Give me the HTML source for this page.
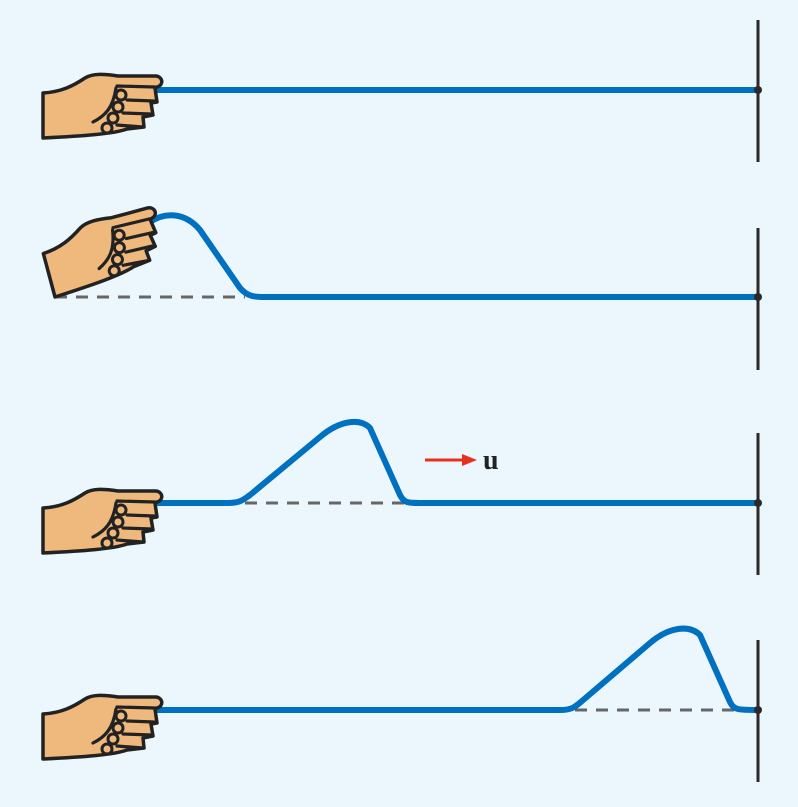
<!DOCTYPE html>
<html><head><style>body{margin:0;background:#ebf7fd}svg{display:block}</style></head>
<body>
<svg width="798" height="807" viewBox="0 0 798 807" xmlns="http://www.w3.org/2000/svg">
<rect width="798" height="807" fill="#ebf7fd"/>
<defs>
<g id="hand">
<path d="M0,21 C18,20 30,14 42,6 C50,1 62,2 75,4 L113,4 C120,5 121,13 114,15 L112,16 L114,30 L108,31 L110,43 L100,45 L101,55 L84,57 C70,62 40,64 0,66 Z" fill="#efb97e" stroke="#222" stroke-width="3.5" stroke-linejoin="round"/>
<path d="M112,15 L74,14 M84,28 L111,29 M80,41 L108,42 M74,53 L100,55 M50,50 C62,44 70,36 73,16" fill="none" stroke="#222" stroke-width="3.2" stroke-linecap="round"/>
<circle cx="78" cy="23" r="5" fill="#efb97e" stroke="#222" stroke-width="3"/>
<circle cx="75" cy="35" r="5" fill="#efb97e" stroke="#222" stroke-width="3"/>
<circle cx="70" cy="46" r="5" fill="#efb97e" stroke="#222" stroke-width="3"/>
<circle cx="64" cy="56" r="5" fill="#efb97e" stroke="#222" stroke-width="3"/>
</g>
</defs>
<g stroke="#2a2a2a" stroke-width="3">
<line x1="758" y1="20" x2="758" y2="162"/><line x1="758" y1="228" x2="758" y2="370"/>
<line x1="758" y1="433" x2="758" y2="575"/><line x1="758" y1="640" x2="758" y2="782"/>
</g>
<g stroke="#666" stroke-width="3" stroke-dasharray="12,9">
<line x1="55" y1="297" x2="245" y2="297"/><line x1="245" y1="503" x2="405" y2="503"/><line x1="575" y1="710" x2="740" y2="710"/>
</g>
<g fill="none" stroke="#0070c0" stroke-width="6" stroke-linecap="round" stroke-linejoin="round">
<path d="M158,90 L758,90"/>
<path d="M150,222 C165,212 185,212 200,230 L240,288 C248,297 255,297 265,297 L758,297"/>
<path d="M158,503 L228,503 C240,503 243,500 250,495 L320,437 C340,420 360,418 370,428 L400,495 C404,503 408,503 420,503 L758,503"/>
<path d="M158,710 L560,710 C572,710 575,707 582,701 L650,643 C670,626 690,625 700,635 L730,702 C734,710 738,710 758,710"/>
</g>
<g fill="#2a2a2a"><circle cx="758" cy="90" r="4"/><circle cx="758" cy="297" r="4"/><circle cx="758" cy="503" r="4"/><circle cx="758" cy="710" r="4"/></g>
<use href="#hand" transform="translate(43,72)"/>
<use href="#hand" transform="translate(55,231) rotate(-15 0 66)"/>
<use href="#hand" transform="translate(43,487)"/>
<use href="#hand" transform="translate(43,693)"/>
<g>
<line x1="425" y1="460" x2="465" y2="460" stroke="#e8301e" stroke-width="3"/>
<polygon points="477,460 462,454 462,466" fill="#e8301e"/>
<text x="483" y="469" font-family="Liberation Serif, serif" font-weight="bold" font-size="28" fill="#222">u</text>
</g>
</svg>
</body></html>
